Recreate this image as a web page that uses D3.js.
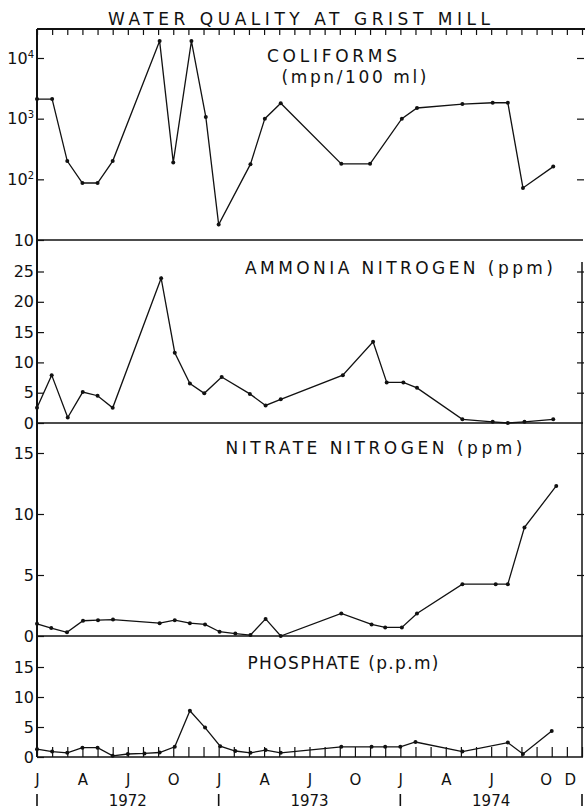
<!DOCTYPE html>
<html>
<head>
<meta charset="utf-8">
<script src="https://cdn.jsdelivr.net/npm/d3@7"></script>
<style>
  body { margin: 0; background: #fff; }
  svg { display: block; font-family: "DejaVu Sans", sans-serif; }
  .axis text { font-family: "DejaVu Sans", sans-serif; font-size: 16px; fill: #111; }
  .axis line { stroke: #111; stroke-width: 1.2; }
  .axis path { display: none; }
  .months text { font-size: 15px; }
</style>
</head>
<body>
<div id="chart"></div>
<script>
// months since 1 Jan 1972
const colMonths = [0, 1, 2, 3, 4, 5, 8.1, 9, 10.2, 11.15, 12, 14.1, 15.05, 16.1, 20.1, 22, 24.1, 25.1, 28.1, 30.1, 31.1, 32.1, 34.1];
const colValues = [2100, 2100, 200, 87, 87, 200, 19000, 190, 19000, 1070, 18, 178, 1000, 1800, 180, 180, 1000, 1500, 1740, 1830, 1830, 72, 162];

const ammMonths = [0, 0.97, 2.03, 3.02, 4, 5, 8.2, 9.1, 10.1, 11.05, 12.2, 14.06, 15.1, 16.1, 20.2, 22.2, 23.1, 24.2, 25.1, 28.1, 30.1, 31.1, 32.2, 34.1];
const ammValues = [2.5, 7.9, 0.9, 5.1, 4.5, 2.5, 23.9, 11.6, 6.5, 4.9, 7.6, 4.8, 2.9, 3.9, 7.9, 13.4, 6.7, 6.7, 5.8, 0.6, 0.2, 0, 0.2, 0.6];

const nitMonths = [0, 0.94, 1.98, 3.04, 4.03, 5.02, 8.1, 9.1, 10.1, 11.1, 12.06, 13.1, 14.1, 15.1, 16.1, 20.1, 22.1, 23, 24.1, 25.1, 28.1, 30.3, 31.1, 32.2, 34.3];
const nitValues = [1.0, 0.65, 0.3, 1.25, 1.3, 1.35, 1.05, 1.3, 1.05, 0.95, 0.35, 0.2, 0.08, 1.4, 0, 1.85, 0.95, 0.7, 0.7, 1.85, 4.25, 4.25, 4.25, 8.9, 12.3];

const phoMonths = [0, 1, 2, 3, 4, 5, 6, 7.1, 8.1, 9.1, 10.1, 11.1, 12.1, 13.1, 14.1, 15.1, 16.1, 20.1, 22.1, 23, 24, 25, 28.1, 31.1, 32.1, 34];
const phoValues = [1.3, 0.9, 0.7, 1.55, 1.55, 0.2, 0.5, 0.6, 0.75, 1.7, 7.7, 4.9, 1.8, 1.0, 0.7, 1.16, 0.7, 1.7, 1.7, 1.7, 1.7, 2.5, 0.9, 2.4, 0.5, 4.35];

const colTicks = [10, 100, 1000, 10000];
const ammTicks = [0, 5, 10, 15, 20, 25];
const nitTicks = [0, 5, 10, 15];
const phoTicks = [0, 5, 10, 15];

const monthTickValues = [0, 3, 6, 9, 12, 15, 18, 21, 24, 27, 30, 33.6, 35.2];
const monthTickLabels = ["J", "A", "J", "O", "J", "A", "J", "O", "J", "A", "J", "O", "D"];
const yearLabelMonths = [6, 18, 30];
const yearLabels = ["1972", "1973", "1974"];
const yearMarkMonths = [0, 12, 24, 36];

const title = "WATER QUALITY AT GRIST MILL";

function draw() {
  const width = 585, height = 810;
  const X0 = 37, X1 = 582;
  const svg = d3.select("#chart").append("svg").attr("width", width).attr("height", height);

  const x = d3.scaleLinear().domain([0, 36]).range([X0, X1]);

  const panels = [
    { months: colMonths, values: colValues, ticks: colTicks,
      y: d3.scaleLog().domain([10, 10000]).range([240, 58]), top: 29, bottom: 240,
      labels: [{ t: "COLIFORMS", cx: 332, by: 62, w: 130 }, { t: "(mpn/100 ml)", cx: 354, by: 83, w: 145 }] },
    { months: ammMonths, values: ammValues, ticks: ammTicks,
      y: d3.scaleLinear().domain([0, 25]).range([423, 271.5]), top: 240, bottom: 423,
      labels: [{ t: "AMMONIA  NITROGEN (ppm)", cx: 399, by: 274, w: 308 }] },
    { months: nitMonths, values: nitValues, ticks: nitTicks,
      y: d3.scaleLinear().domain([0, 15]).range([636, 453]), top: 423, bottom: 636,
      labels: [{ t: "NITRATE  NITROGEN (ppm)", cx: 374, by: 454, w: 297 }] },
    { months: phoMonths, values: phoValues, ticks: phoTicks,
      y: d3.scaleLinear().domain([0, 15]).range([757, 667]), top: 636, bottom: 757,
      labels: [{ t: "PHOSPHATE (p.p.m)", cx: 343, by: 669, w: 191 }] }
  ];

  // title
  svg.append("text").attr("x", 299).attr("y", 25).attr("text-anchor", "middle")
    .attr("font-size", 17).attr("fill", "#111")
    .attr("textLength", 382).attr("lengthAdjust", "spacing").text(title);

  // frame lines
  svg.append("line").attr("x1", X0).attr("x2", width).attr("y1", 29).attr("y2", 29)
    .attr("stroke", "#111").attr("stroke-width", 1.8);
  svg.append("line").attr("x1", X0).attr("x2", X0).attr("y1", 29).attr("y2", 757)
    .attr("stroke", "#111").attr("stroke-width", 2);
  svg.append("line").attr("x1", X1).attr("x2", X1).attr("y1", 262).attr("y2", 757)
    .attr("stroke", "#111").attr("stroke-width", 1.5);

  // top month ticks
  svg.append("g").attr("class", "axis").attr("transform", "translate(0,29)")
    .call(d3.axisTop(x).tickValues(d3.range(0, 37)).tickSize(-6).tickFormat(""));

  panels.forEach((p, i) => {
    // divider line
    svg.append("line").attr("x1", X0).attr("x2", X1 + 1).attr("y1", p.bottom).attr("y2", p.bottom)
      .attr("stroke", "#111").attr("stroke-width", 1.6);

    const left = svg.append("g").attr("class", "axis").attr("transform", `translate(${X0},0)`)
      .call(d3.axisLeft(p.y).tickValues(p.ticks).tickSize(-7).tickPadding(3)
        .tickFormat(d => i === 0 ? "10" : d));
    if (i === 0) {
      left.selectAll("text").each(function (d) {
        const e = Math.round(Math.log10(d));
        if (e > 1) d3.select(this).append("tspan").attr("dy", "-0.6em").attr("font-size", 10).text(e);
      });
    }
    svg.append("g").attr("class", "axis").attr("transform", `translate(${X1 + 2},0)`)
      .call(d3.axisLeft(p.y).tickValues(p.ticks.filter(t => p.y(t) < p.bottom - 2)).tickSize(7).tickFormat(""));

    p.labels.forEach(l => {
      svg.append("text").attr("x", l.cx).attr("y", l.by).attr("text-anchor", "middle")
        .attr("font-size", 17).attr("fill", "#111")
        .attr("textLength", l.w).attr("lengthAdjust", "spacing").text(l.t);
    });

    const pts = p.months.map((m, k) => [m, p.values[k]]);
    const line = d3.line().x(d => x(d[0])).y(d => p.y(d[1]));
    svg.append("path").datum(pts).attr("d", line)
      .attr("fill", "none").attr("stroke", "#111").attr("stroke-width", 1.3);
    svg.append("g").selectAll("circle").data(pts).join("circle")
      .attr("cx", d => x(d[0])).attr("cy", d => p.y(d[1])).attr("r", 2).attr("fill", "#111");
  });

  // bottom axis: upward ticks every month, letters at quarter months
  svg.append("g").attr("class", "axis").attr("transform", "translate(0,757)")
    .call(d3.axisBottom(x).tickValues(d3.range(0, 37)).tickSize(-10).tickFormat(""));
  svg.append("g").attr("class", "axis months").attr("transform", "translate(0,757)")
    .call(d3.axisBottom(x).tickValues(monthTickValues).tickSize(0).tickPadding(17)
      .tickFormat((d, k) => monthTickLabels[k]));

  svg.append("g").selectAll("text").data(yearLabels).join("text")
    .attr("x", (d, k) => x(yearLabelMonths[k])).attr("y", 806)
    .attr("text-anchor", "middle").attr("font-size", 15).attr("fill", "#111").text(d => d);
  svg.append("g").selectAll("line").data(yearMarkMonths).join("line")
    .attr("x1", d => x(d)).attr("x2", d => x(d)).attr("y1", 794).attr("y2", 806)
    .attr("stroke", "#111").attr("stroke-width", 1.6);
}

draw();
</script>
</body>
</html>
